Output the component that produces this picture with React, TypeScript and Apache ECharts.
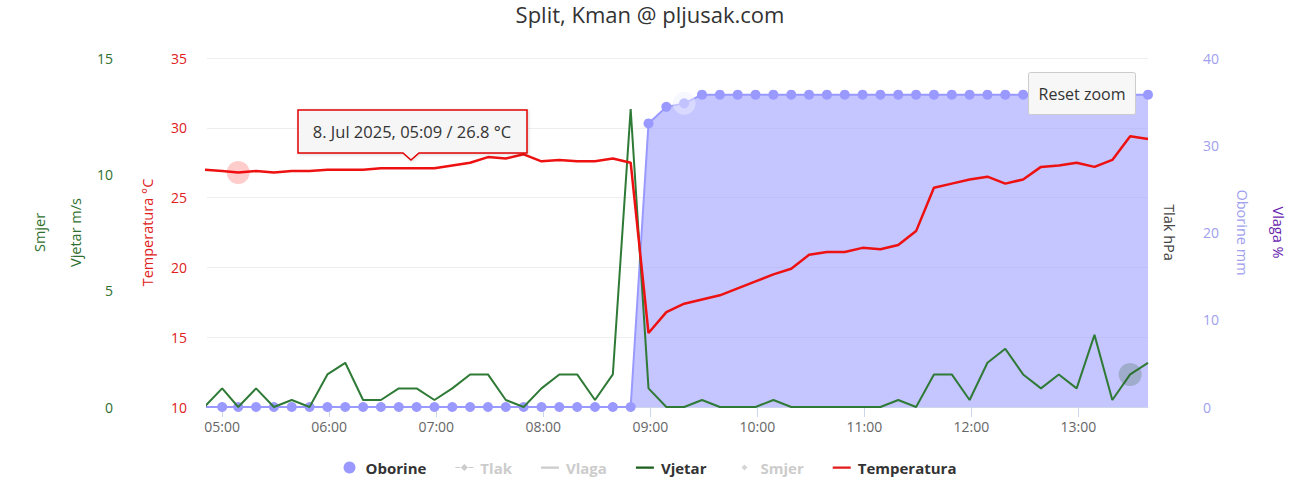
import { useEffect, useRef } from 'react';
import * as echarts from 'echarts';

const chartTitle = 'Split, Kman @ pljusak.com';
const dateLabel = '8. Jul 2025';

const times = [
  '04:50', '05:00', '05:09', '05:19', '05:29', '05:39', '05:49', '05:59',
  '06:09', '06:19', '06:29', '06:39', '06:49', '06:59',
  '07:09', '07:19', '07:29', '07:39', '07:49', '07:59',
  '08:09', '08:19', '08:29', '08:39', '08:49', '08:59',
  '09:09', '09:19', '09:29', '09:39', '09:49', '09:59',
  '10:09', '10:19', '10:29', '10:39', '10:49', '10:59',
  '11:09', '11:19', '11:29', '11:39', '11:49', '11:59',
  '12:09', '12:19', '12:29', '12:39', '12:49', '12:59',
  '13:09', '13:19', '13:29', '13:39',
];

const temperatura = [
  27.0, 26.9, 26.8, 26.9, 26.8, 26.9, 26.9, 27.0, 27.0, 27.0,
  27.1, 27.1, 27.1, 27.1, 27.3, 27.5, 27.9, 27.8, 28.1, 27.6,
  27.7, 27.6, 27.6, 27.8, 27.5, 15.3, 16.8, 17.4, 17.7, 18.0,
  18.5, 19.0, 19.5, 19.9, 20.9, 21.1, 21.1, 21.4, 21.3, 21.6,
  22.6, 25.7, 26.0, 26.3, 26.5, 26.0, 26.3, 27.2, 27.3, 27.5,
  27.2, 27.7, 29.4, 29.2,
];

const vjetar = [
  0, 0.8, 0, 0.8, 0, 0.3, 0, 1.4, 1.9, 0.3,
  0.3, 0.8, 0.8, 0.3, 0.8, 1.4, 1.4, 0.3, 0, 0.8,
  1.4, 1.4, 0.3, 1.4, 12.8, 0.8, 0, 0, 0.3, 0,
  0, 0, 0.3, 0, 0, 0, 0, 0, 0, 0.3,
  0, 1.4, 1.4, 0.3, 1.9, 2.5, 1.4, 0.8, 1.4, 0.8,
  3.1, 0.3, 1.4, 1.9,
];

const oborine = [
  0, 0, 0, 0, 0, 0, 0, 0, 0, 0,
  0, 0, 0, 0, 0, 0, 0, 0, 0, 0,
  0, 0, 0, 0, 0, 32.5, 34.4, 34.8, 35.8, 35.8,
  35.8, 35.8, 35.8, 35.8, 35.8, 35.8, 35.8, 35.8, 35.8, 35.8,
  35.8, 35.8, 35.8, 35.8, 35.8, 35.8, 35.8, 35.8, 35.8, 35.8,
  35.8, 35.8, 35.8, 35.8,
];

const tlak: number[] = [];
const vlaga: number[] = [];
const smjer: number[] = [];

const tempTicks = { min: 10, max: 35, step: 5 };
const windTicks = { min: 0, max: 15, step: 5 };
const rainTicks = { min: 0, max: 40, step: 10 };

const hoveredTemp = 2;
const hoveredRain = 27;
const hoveredWind = 52;

function ts(hm: string, sec = 0) {
  const [h, m] = hm.split(':').map(Number);
  return new Date(2025, 6, 8, h, m, sec).getTime();
}
const pad = (n: number) => (n < 10 ? '0' + n : '' + n);

const FONT = 'Open Sans';
const C_TEMP = '#ee1111';
const C_TEMP_TXT = '#e02020';
const C_WIND = '#2f7a36';
const C_WIND_TXT = '#2e6e2e';
const C_RAIN = '#9999ff';
const C_RAIN_TXT = '#a0a0ee';
const C_VLAGA = '#6a1fb0';

const corners = 'M0,0h0.01v0.01h-0.01z M18,12h-0.01v-0.01h0.01z ';
const lineIcon = 'path://' + corners + 'M0,5h18v2.2h-18z';
const tlakIcon = 'path://' + corners + 'M0,5.4h5v1.2h-5z M13,5.4h5v1.2h-5z M9,2.5L12.5,6L9,9.5L5.5,6z';
const smjerIcon = 'path://' + corners + 'M9,3L12,6L9,9L6,6z';

export default function App() {
  const ref = useRef<HTMLDivElement>(null);
  useEffect(() => {
    const chart = echarts.init(ref.current!, null, { renderer: 'svg' });
    const X = times.map((t) => ts(t));
    const pair = (arr: number[]) => arr.map((v, i) => [X[i], v]);

    const hiddenAxis = {
      axisLine: { show: false },
      axisTick: { show: false },
      splitLine: { show: false },
      axisLabel: { show: false },
      min: 0,
      max: 1,
      nameLocation: 'middle',
    };

    const option: any = {
      animation: false,
      backgroundColor: '#ffffff',
      title: {
        text: chartTitle,
        left: 'center',
        top: 3,
        padding: 0,
        textStyle: { fontFamily: FONT, fontSize: 22, fontWeight: 'normal', color: '#333333' },
      },
      grid: { left: 207, right: 152, top: 58, bottom: 77 },
      legend: {
        data: [
          { name: 'Oborine', icon: 'circle' },
          { name: 'Tlak', icon: tlakIcon },
          { name: 'Vlaga', icon: lineIcon },
          { name: 'Vjetar', icon: lineIcon },
          { name: 'Smjer', icon: smjerIcon },
          { name: 'Temperatura', icon: lineIcon },
        ],
        selected: { Tlak: false, Vlaga: false, Smjer: false },
        left: 'center',
        top: 455,
        itemWidth: 18,
        itemHeight: 12,
        itemGap: 29,
        inactiveColor: '#cccccc',
        textStyle: {
          fontFamily: FONT,
          fontSize: 15,
          fontWeight: 'bold',
          color: '#333333',
          padding: [0, 0, 0, 2],
        },
      },
      xAxis: {
        type: 'time',
        min: ts('04:51', 30),
        max: ts('13:39'),
        minInterval: 3600 * 1000,
        maxInterval: 3600 * 1000,
        axisLine: { lineStyle: { color: '#ccd6eb' } },
        axisTick: { show: true, length: 10, lineStyle: { color: '#ccd6eb' } },
        splitLine: { show: false },
        axisLabel: {
          color: '#666666',
          fontFamily: FONT,
          fontSize: 14,
          margin: 12,
          formatter: (v: number) => {
            const d = new Date(v);
            return d.getMinutes() === 0 && d.getSeconds() === 0 ? pad(d.getHours()) + ':00' : '';
          },
        },
      },
      yAxis: [
        {
          type: 'value',
          position: 'left',
          min: tempTicks.min,
          max: tempTicks.max,
          interval: tempTicks.step,
          name: 'Temperatura °C',
          nameLocation: 'middle',
          nameGap: 52,
          nameTextStyle: { color: C_TEMP_TXT, fontFamily: FONT, fontSize: 14.5 },
          axisLine: { show: false },
          axisTick: { show: false },
          axisLabel: { color: C_TEMP_TXT, fontFamily: FONT, fontSize: 14, margin: 20 },
          splitLine: { lineStyle: { color: '#eeeeee' } },
        },
        {
          type: 'value',
          position: 'left',
          offset: 86,
          min: windTicks.min,
          max: windTicks.max,
          interval: windTicks.step,
          name: 'Vjetar m/s',
          nameLocation: 'middle',
          nameGap: 38,
          nameTextStyle: { color: C_WIND_TXT, fontFamily: FONT, fontSize: 14.5 },
          axisLine: { show: false },
          axisTick: { show: false },
          axisLabel: { color: C_WIND_TXT, fontFamily: FONT, fontSize: 14, margin: 8 },
          splitLine: { show: false },
        },
        {
          ...hiddenAxis,
          type: 'value',
          position: 'left',
          offset: 147,
          name: 'Smjer',
          nameGap: 13,
          nameTextStyle: { color: C_WIND_TXT, fontFamily: FONT, fontSize: 14.5 },
        },
        {
          type: 'value',
          position: 'right',
          offset: 47,
          min: rainTicks.min,
          max: rainTicks.max,
          interval: rainTicks.step,
          name: 'Oborine mm',
          nameLocation: 'middle',
          nameRotate: -90,
          nameGap: 40,
          nameTextStyle: { color: C_RAIN_TXT, fontFamily: FONT, fontSize: 14.5 },
          axisLine: { show: false },
          axisTick: { show: false },
          axisLabel: { color: C_RAIN_TXT, fontFamily: FONT, fontSize: 14, margin: 8 },
          splitLine: { show: false },
        },
        {
          ...hiddenAxis,
          type: 'value',
          position: 'right',
          offset: 0,
          name: 'Tlak hPa',
          nameRotate: -90,
          nameGap: 14,
          nameTextStyle: { color: '#444444', fontFamily: FONT, fontSize: 14.5 },
        },
        {
          ...hiddenAxis,
          type: 'value',
          position: 'right',
          offset: 100,
          name: 'Vlaga %',
          nameRotate: -90,
          nameGap: 23,
          nameTextStyle: { color: C_VLAGA, fontFamily: FONT, fontSize: 14.5 },
        },
      ],
      series: [
        {
          name: 'Oborine',
          type: 'line',
          yAxisIndex: 3,
          data: pair(oborine),
          symbol: 'circle',
          symbolSize: 10,
          showAllSymbol: true,
          lineStyle: { color: C_RAIN, width: 2 },
          itemStyle: { color: C_RAIN },
          areaStyle: { color: C_RAIN, opacity: 0.57 },
          z: 1,
        },
        { name: 'Tlak', type: 'line', yAxisIndex: 4, data: tlak, itemStyle: { color: '#888888' } },
        { name: 'Vlaga', type: 'line', yAxisIndex: 5, data: vlaga, itemStyle: { color: C_VLAGA } },
        {
          name: 'Vjetar',
          type: 'line',
          yAxisIndex: 1,
          data: pair(vjetar),
          showSymbol: false,
          lineStyle: { color: C_WIND, width: 2 },
          itemStyle: { color: '#1c5e1c' },
          z: 3,
        },
        { name: 'Smjer', type: 'scatter', yAxisIndex: 2, data: smjer, itemStyle: { color: '#2e6e2e' } },
        {
          name: 'Temperatura',
          type: 'line',
          yAxisIndex: 0,
          data: pair(temperatura),
          showSymbol: false,
          lineStyle: { color: C_TEMP, width: 2.5 },
          itemStyle: { color: '#e41b1b' },
          z: 4,
        },
        {
          name: 'haloTemp',
          type: 'scatter',
          yAxisIndex: 0,
          silent: true,
          symbolSize: 23,
          data: [[X[hoveredTemp], temperatura[hoveredTemp]]],
          itemStyle: { color: 'rgba(255,0,0,0.25)' },
          z: 5,
        },
        {
          name: 'haloRain',
          type: 'scatter',
          yAxisIndex: 3,
          silent: true,
          symbolSize: 23,
          data: [[X[hoveredRain], oborine[hoveredRain]]],
          itemStyle: { color: 'rgba(238,238,255,0.6)' },
          z: 2,
        },
        {
          name: 'haloWind',
          type: 'scatter',
          yAxisIndex: 1,
          silent: true,
          symbolSize: 23,
          data: [[X[hoveredWind], vjetar[hoveredWind]]],
          itemStyle: { color: 'rgba(40,90,40,0.3)' },
          z: 5,
        },
      ],
      graphic: [
        {
          type: 'polygon',
          z: 100,
          shape: {
            points: [
              [298, 110], [527, 110], [527, 153], [419, 153], [411, 160], [403, 153], [298, 153],
            ],
          },
          style: {
            fill: 'rgba(247,247,247,0.92)',
            stroke: '#e00000',
            lineWidth: 1.5,
            shadowBlur: 3,
            shadowOffsetX: 1,
            shadowOffsetY: 1,
            shadowColor: 'rgba(0,0,0,0.15)',
          },
        },
        {
          type: 'text',
          z: 101,
          x: 412,
          y: 131.5,
          style: {
            text: `${dateLabel}, ${times[hoveredTemp]} / ${temperatura[hoveredTemp]} °C`,
            fontFamily: FONT,
            fontSize: 16.5,
            fill: '#333333',
            align: 'center',
            verticalAlign: 'middle',
          },
        },
        {
          type: 'rect',
          z: 100,
          shape: { x: 1028.5, y: 72.5, width: 107, height: 42, r: 2 },
          style: { fill: '#f7f7f7', stroke: '#cccccc', lineWidth: 1 },
        },
        {
          type: 'text',
          z: 101,
          x: 1082,
          y: 93.5,
          style: {
            text: 'Reset zoom',
            fontFamily: FONT,
            fontSize: 16,
            fill: '#333333',
            align: 'center',
            verticalAlign: 'middle',
          },
        },
      ],
    };

    chart.setOption(option);
    return () => chart.dispose();
  }, []);

  return (
    <div
      ref={ref}
      style={{ position: 'fixed', left: 0, top: 0, width: 1300, height: 484, background: '#ffffff' }}
    />
  );
}
